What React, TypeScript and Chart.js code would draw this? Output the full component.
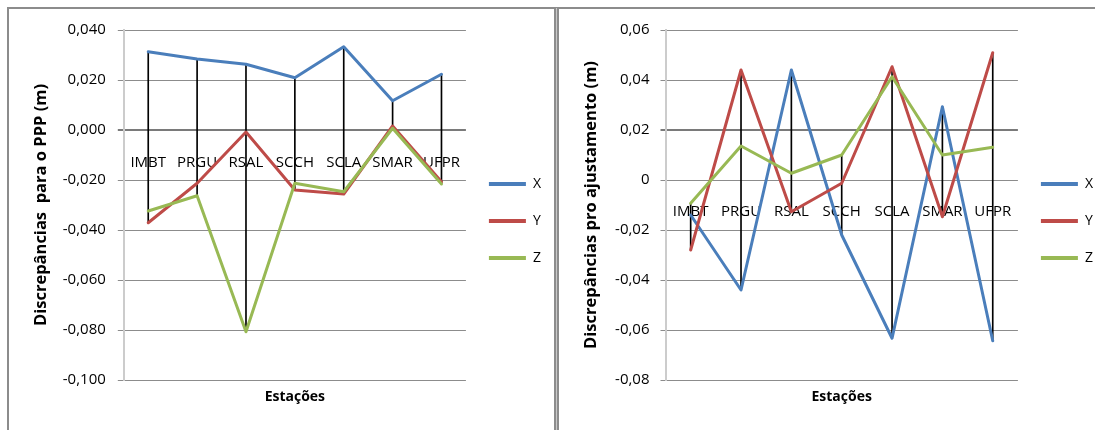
import React, { useEffect, useRef } from 'react';
import { Chart, registerables } from 'chart.js';

Chart.register(...registerables);

// ---------- data ----------
const stations = ['IMBT', 'PRGU', 'RSAL', 'SCCH', 'SCLA', 'SMAR', 'UFPR'];

// Left chart: discrepancies relative to PPP (m)
const pppX = [0.0313, 0.0284, 0.0263, 0.0209, 0.0333, 0.0117, 0.0223];
const pppY = [-0.0371, -0.0213, -0.0008, -0.0240, -0.0256, 0.0016, -0.0207];
const pppZ = [-0.0324, -0.0263, -0.0807, -0.0213, -0.0247, 0.0007, -0.0216];
const pppTickValues = [-0.1, -0.08, -0.06, -0.04, -0.02, 0, 0.02, 0.04];
const pppTickLabels = ['-0,100', '-0,080', '-0,060', '-0,040', '-0,020', '0,000', '0,020', '0,040'];

// Right chart: discrepancies relative to the adjustment (m)
const ajX = [-0.0140, -0.0440, 0.0440, -0.0220, -0.0633, 0.0293, -0.0643];
const ajY = [-0.0280, 0.0440, -0.0127, -0.0013, 0.0453, -0.0147, 0.0509];
const ajZ = [-0.0093, 0.0136, 0.0027, 0.0100, 0.0413, 0.0100, 0.0131];
const ajTickValues = [-0.08, -0.06, -0.04, -0.02, 0, 0.02, 0.04, 0.06];
const ajTickLabels = ['-0,08', '-0,06', '-0,04', '-0,02', '0', '0,02', '0,04', '0,06'];

const seriesNames = ['X', 'Y', 'Z'];
const xTitle = 'Estações';
const pppTitle = 'Discrepâncias  para o PPP (m)';
const ajTitle = 'Discrepâncias pro ajustamento (m)';

// ---------- styles ----------
const FONT = "'Open Sans', 'DejaVu Sans', sans-serif";
const COLORS = ['#4a7ebb', '#be4b48', '#98b954'];

type PanelOpts = {
  xs: number[];
  ys: number[];
  zs: number[];
  tickValues: number[];
  tickLabels: string[];
  crossValue: number;
  labelAxisValue: number;
  yTitle: string;
  yAxisWidth: number;
  yTitleCenter: number;
  tickLength: number;
  tickPadding: number;
  paddingRight: number;
};

function makeConfig(o: PanelOpts): any {
  const series = [o.xs, o.ys, o.zs];
  const hiLo = stations.map((_, i) => {
    const v = series.map((s) => s[i]);
    return [Math.min(...v), Math.max(...v)];
  });
  const titleSize = 16.5;
  const titleLH = titleSize * 1.2;
  return {
    type: 'line',
    data: {
      labels: stations,
      datasets: [
        ...series.map((s, k) => ({
          type: 'line',
          label: seriesNames[k],
          data: s,
          borderColor: COLORS[k],
          backgroundColor: COLORS[k],
          borderWidth: 3,
          borderCapStyle: 'round',
          borderJoinStyle: 'round',
          pointRadius: 0,
          pointHoverRadius: 0,
          tension: 0,
          fill: false,
          order: 3 - k,
          xAxisID: 'x',
          yAxisID: 'y',
        })),
        {
          type: 'bar',
          label: 'hilo',
          data: hiLo,
          backgroundColor: '#000000',
          borderWidth: 0,
          barThickness: 1,
          order: 10,
          xAxisID: 'x',
          yAxisID: 'y',
        },
      ],
    },
    options: {
      animation: false,
      responsive: false,
      events: [],
      layout: { padding: { top: 30, bottom: 18, left: 0, right: o.paddingRight } },
      plugins: {
        tooltip: { enabled: false },
        legend: {
          position: 'right',
          align: 'center',
          labels: {
            usePointStyle: true,
            pointStyle: 'line',
            pointStyleWidth: 37,
            padding: 23,
            color: '#000',
            font: { family: FONT, size: 14 },
            generateLabels: (chart: any) =>
              Chart.defaults.plugins.legend.labels
                .generateLabels(chart)
                .map((l: any) => ({ ...l, lineWidth: 4 })),
            filter: (item: any) => item.datasetIndex < 3,
            sort: (a: any, b: any) => a.datasetIndex - b.datasetIndex,
          },
        },
      },
      scales: {
        x: {
          type: 'category',
          position: { y: o.labelAxisValue },
          offset: true,
          grid: { display: false, drawTicks: false },
          border: { display: false },
          ticks: {
            color: '#000',
            font: { family: FONT, size: 15 },
            padding: 0,
            maxRotation: 0,
            autoSkip: false,
          },
        },
        x2: {
          type: 'category',
          position: 'bottom',
          offset: true,
          grid: { display: false, drawTicks: false },
          border: { display: false },
          ticks: { display: false },
          title: {
            display: true,
            text: xTitle,
            color: '#000',
            font: { family: FONT, size: 14, weight: 'bold' },
            padding: { top: 8.6, bottom: 6.6 },
          },
        },
        y: {
          type: 'linear',
          position: 'left',
          min: o.tickValues[0],
          max: o.tickValues[o.tickValues.length - 1],
          afterBuildTicks: (scale: any) => {
            scale.ticks = o.tickValues.map((v) => ({ value: v }));
          },
          afterFit: (scale: any) => {
            scale.width = o.yAxisWidth;
          },
          grid: {
            color: (c: any) =>
              c.tick && Math.abs(c.tick.value - o.crossValue) < 1e-9 ? '#7a7a7a' : '#8c8c8c',
            lineWidth: (c: any) =>
              c.tick && Math.abs(c.tick.value - o.crossValue) < 1e-9 ? 2 : 1,
            tickLength: o.tickLength,
          },
          border: { display: true, color: '#cccccc', width: 2 },
          ticks: {
            color: '#000',
            font: { family: FONT, size: 15 },
            padding: o.tickPadding,
            callback: (_v: any, i: number) => o.tickLabels[i],
          },
          title: {
            display: true,
            text: o.yTitle,
            color: '#000',
            font: { family: FONT, size: titleSize, weight: 'bold' },
            padding: { top: o.yTitleCenter - titleLH / 2, bottom: 0 },
          },
        },
      },
    },
  };
}

function Panel({ config, left, width }: { config: any; left: number; width: number }) {
  const ref = useRef<HTMLCanvasElement>(null);
  useEffect(() => {
    const chart = new Chart(ref.current as HTMLCanvasElement, config);
    return () => chart.destroy();
  }, [config]);
  return (
    <canvas
      ref={ref}
      width={width}
      height={430}
      style={{ position: 'absolute', left, top: 0, width, height: 430 }}
    />
  );
}

const leftConfig = makeConfig({
  xs: pppX,
  ys: pppY,
  zs: pppZ,
  tickValues: pppTickValues,
  tickLabels: pppTickLabels,
  crossValue: 0,
  labelAxisValue: -0.0096,
  yTitle: pppTitle,
  yAxisWidth: 123.8,
  yTitleCenter: 41.4,
  tickLength: 6,
  tickPadding: 12,
  paddingRight: 2,
});

const rightConfig = makeConfig({
  xs: ajX,
  ys: ajY,
  zs: ajZ,
  tickValues: ajTickValues,
  tickLabels: ajTickLabels,
  crossValue: 0.02,
  labelAxisValue: -0.0091,
  yTitle: ajTitle,
  yAxisWidth: 107.5,
  yTitleCenter: 33,
  tickLength: 5,
  tickPadding: 11,
  paddingRight: 2,
});

const lineStyle: React.CSSProperties = { position: 'absolute', background: '#8c8c8c' };

export default function App() {
  return (
    <div
      style={{
        position: 'absolute',
        left: 0,
        top: 0,
        width: 1095,
        height: 430,
        overflow: 'hidden',
        background: '#ffffff',
      }}
    >
      <div style={{ ...lineStyle, left: 7, top: 7, width: 1088, height: 2 }} />
      <div style={{ ...lineStyle, left: 7, top: 7, width: 2, height: 423 }} />
      <div style={{ ...lineStyle, left: 554, top: 7, width: 2, height: 423 }} />
      <div style={{ position: 'absolute', left: 556, top: 8, width: 1, height: 422, background: '#c8c8c8' }} />
      <div style={{ ...lineStyle, left: 557, top: 7, width: 2, height: 423 }} />
      <Panel config={leftConfig} left={0} width={553} />
      <Panel config={rightConfig} left={558} width={547} />
    </div>
  );
}
